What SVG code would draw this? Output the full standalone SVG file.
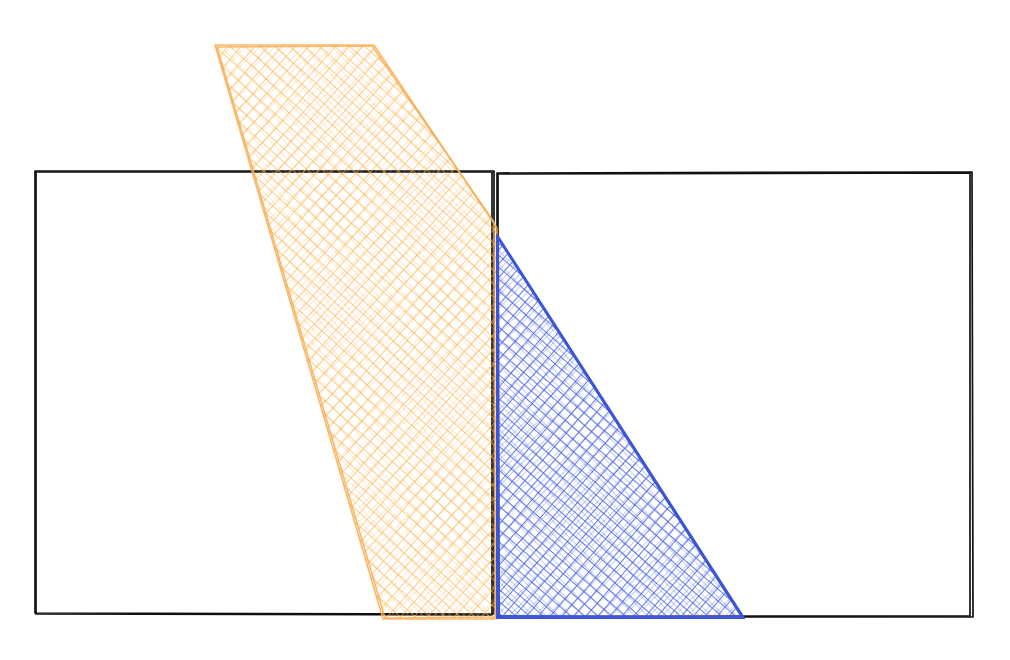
<svg xmlns="http://www.w3.org/2000/svg" width="1010" height="660" viewBox="0 0 1010 660">
<defs>
<pattern id="hOrange" patternUnits="userSpaceOnUse" width="10" height="10" patternTransform="rotate(42)">
<line x1="0" y1="0" x2="0" y2="10" stroke="#fbb24a" stroke-width="1.6" stroke-opacity="0.8"/>
<line x1="0" y1="0" x2="10" y2="0" stroke="#fbb24a" stroke-width="1.6" stroke-opacity="0.8"/>
</pattern>
<pattern id="hOrange2" patternUnits="userSpaceOnUse" width="10" height="10" patternTransform="rotate(46) translate(4 3)">
<line x1="0" y1="0" x2="0" y2="10" stroke="#fbb24a" stroke-width="1" stroke-opacity="0.55"/>
<line x1="0" y1="0" x2="10" y2="0" stroke="#fbb24a" stroke-width="1" stroke-opacity="0.55"/>
</pattern>
<pattern id="hBlue" patternUnits="userSpaceOnUse" width="9" height="9" patternTransform="rotate(41)">
<line x1="0" y1="0" x2="0" y2="9" stroke="#4a64e6" stroke-width="1.7"/>
<line x1="0" y1="0" x2="9" y2="0" stroke="#4a64e6" stroke-width="1.7"/>
</pattern>
<pattern id="hBlue2" patternUnits="userSpaceOnUse" width="9" height="9" patternTransform="rotate(45) translate(3 4)">
<line x1="0" y1="0" x2="0" y2="9" stroke="#5a72ea" stroke-width="1" stroke-opacity="0.7"/>
<line x1="0" y1="0" x2="9" y2="0" stroke="#5a72ea" stroke-width="1" stroke-opacity="0.7"/>
</pattern>
<style>
.box{fill:none;stroke:#111;stroke-width:1.7;stroke-linejoin:round}
.orange{stroke:#f8ad55;stroke-width:1.6;stroke-opacity:0.85;stroke-linejoin:round}
.blue{stroke:#3b55d6;stroke-width:2.2;stroke-linejoin:round}
</style>
</defs>
<rect width="1010" height="660" fill="#ffffff"/>
<g id="left-box">
<path class="box" d="M35 171 L494 171 L494 614 L35 613 Z"/>
<path class="box" d="M36 172 L492 172 L492 615 L36 614 Z" stroke-width="0.9"/>
</g>
<g id="right-box">
<path class="box" d="M497 173 L972 172 L973 617 L497 617 Z"/>
<path class="box" d="M498 174 L970 173 L970 616 L498 616.5 Z" stroke-width="0.8"/>
</g>
<g id="orange-shape">
<path class="orange" fill="url(#hOrange)" d="M215 45 L374 45 L497 228 L497 619 L383 619 Z"/>
<path fill="url(#hOrange2)" d="M215 45 L374 45 L497 228 L497 619 L383 619 Z"/>
<path class="orange" fill="none" stroke-width="1" d="M217 47 L372 46 L494 222 L495 617 L385 618 Z"/>
</g>
<g id="blue-shape">
<path class="blue" fill="url(#hBlue)" d="M497 235 L744 618 L497 618 Z"/>
<path fill="url(#hBlue2)" d="M497 235 L744 618 L497 618 Z"/>
<path class="blue" fill="none" stroke-width="1.2" d="M498 238 L742 617 L499 616 Z"/>
</g>
<g id="connectors"/>
</svg>
